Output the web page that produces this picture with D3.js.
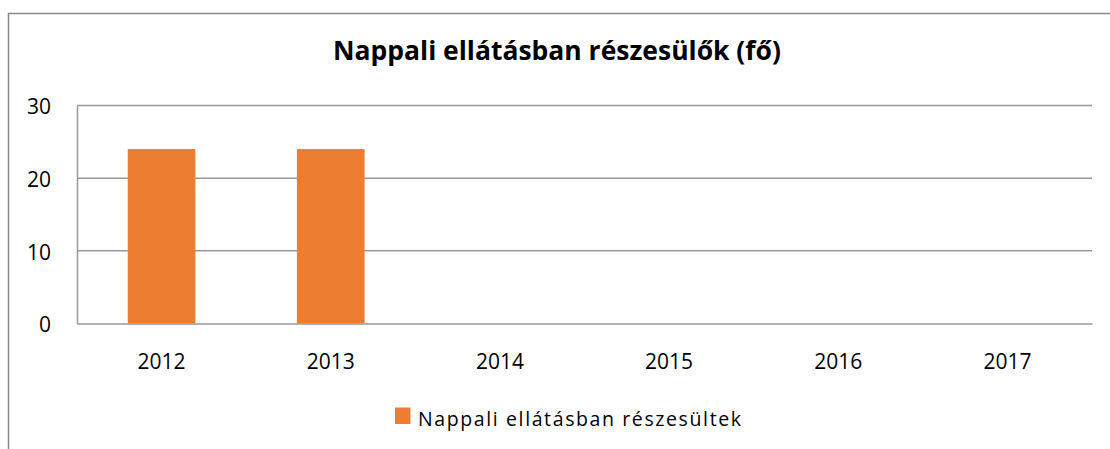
<!DOCTYPE html>
<html>
<head>
<meta charset="utf-8">
<script src="https://cdn.jsdelivr.net/npm/d3@7"></script>
<style>
  body { margin: 0; background: #fff; }
  text { font-family: "Open Sans", "Noto Sans", sans-serif; fill: #000; }
</style>
</head>
<body>
<svg width="1110" height="449"></svg>
<script>
// chart data
var years = ["2012", "2013", "2014", "2015", "2016", "2017"];
var values = [24, 24, 0, 0, 0, 0];
var yTicks = [0, 10, 20, 30];
var seriesName = "Nappali ellátásban részesültek";
var title = "Nappali ellátásban részesülők (fő)";

var svg = d3.select("svg"),
    margin = { top: 105.5, right: 18, bottom: 125.5, left: 77 },
    width = +svg.attr("width") - margin.left - margin.right,
    height = +svg.attr("height") - margin.top - margin.bottom;

// outer chart border (runs off the right and bottom edge)
svg.append("rect")
    .attr("x", 8.5)
    .attr("y", 13.5)
    .attr("width", 1120)
    .attr("height", 460)
    .attr("fill", "none")
    .attr("stroke", "#888")
    .attr("stroke-width", 1.5);

var titleText = svg.append("text")
    .attr("x", 557)
    .attr("y", 60)
    .attr("text-anchor", "middle")
    .attr("font-size", "22px")
    .attr("font-weight", "bold")
    .text(title);
// fit the title to the reference width
var tw = titleText.node().getComputedTextLength();
titleText.attr("font-size", (22 * 448 / tw).toFixed(2) + "px");

var x = d3.scaleBand().domain(years).range([0, width]).paddingInner(0.6).paddingOuter(0.3),
    y = d3.scaleLinear().domain([0, 30]).range([height, 0]);

var g = svg.append("g")
    .attr("transform", "translate(" + margin.left + "," + margin.top + ")");

// gridlines
g.selectAll(".grid")
    .data(yTicks.filter(function (d) { return d > 0; }))
    .enter().append("line")
    .attr("x1", 0)
    .attr("x2", width)
    .attr("y1", function (d) { return y(d); })
    .attr("y2", function (d) { return y(d); })
    .attr("stroke", "#999")
    .attr("stroke-width", 1.5);

// bars
g.selectAll(".bar")
    .data(values)
    .enter().append("rect")
    .attr("class", "bar")
    .attr("x", function (d, i) { return x(years[i]); })
    .attr("y", function (d) { return y(d); })
    .attr("width", x.bandwidth())
    .attr("height", function (d) { return height - y(d); })
    .attr("fill", "#ED7D31");

// y axis
var yAxis = g.append("g")
    .call(d3.axisLeft(y).tickValues(yTicks).tickSize(0).tickPadding(26).tickFormat(d3.format("d")));
yAxis.select(".domain").attr("stroke", "#999").attr("stroke-width", 1.5);
yAxis.selectAll("text").attr("font-size", "21px").attr("dy", "0.4em").attr("fill", "#000");

// x axis
var xAxis = g.append("g")
    .attr("transform", "translate(0," + height + ")")
    .call(d3.axisBottom(x).tickSize(0).tickPadding(30.5));
xAxis.select(".domain").attr("stroke", "#999").attr("stroke-width", 1.5);
xAxis.selectAll("text").attr("font-size", "21px").attr("fill", "#000");

// legend
var legend = svg.append("g").attr("transform", "translate(395,407.5)");
legend.append("rect")
    .attr("width", 15.5)
    .attr("height", 16.5)
    .attr("fill", "#ED7D31");
legend.append("text")
    .attr("x", 23)
    .attr("y", 18)
    .attr("font-size", "19.5px")
    .attr("textLength", 323)
    .attr("lengthAdjust", "spacing")
    .text(seriesName);
</script>
</body>
</html>
